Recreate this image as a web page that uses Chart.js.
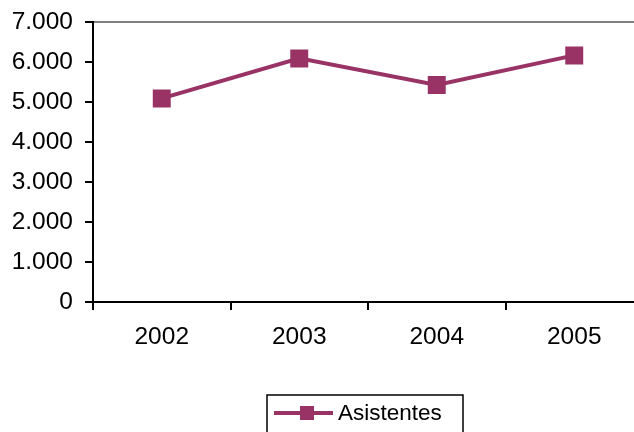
<!DOCTYPE html>
<html>
<head>
<meta charset="utf-8">
<script src="https://cdn.jsdelivr.net/npm/chart.js@4/dist/chart.umd.min.js"></script>
<style>
  html, body { margin: 0; padding: 0; background: #fff; overflow: hidden; }
  #wrap { width: 634px; height: 432px; overflow: hidden; }
</style>
</head>
<body>
<div id="wrap"><canvas id="chart" width="660" height="432"></canvas></div>
<script>
// data
const years = ['2002', '2003', '2004', '2005'];
const asistentes = [5090, 6090, 5425, 6165];
const seriesName = 'Asistentes';
const yTicks = [0, 1000, 2000, 3000, 4000, 5000, 6000, 7000];

const plum = '#993366';
const family = '"Liberation Sans", Arial, sans-serif';
const xFont = { family: family, size: 24.5 };
// small lineHeight so the top label does not push the plot down
const yFont = { family: family, size: 24.5, lineHeight: 0.5 };

// dots as thousands separator, e.g. 7.000
function fmt(v) {
    return String(v).replace(/\B(?=(\d{3})+(?!\d))/g, '.');
}

// boxed legend with line + square marker, like the Excel one
const boxLegend = {
    id: 'boxLegend',
    afterDraw(chart) {
        const ctx = chart.ctx;
        const ds = chart.data.datasets[0];
        const y = 413;
        ctx.save();
        ctx.strokeStyle = '#000';
        ctx.lineWidth = 1.5;
        ctx.strokeRect(267, 395, 196, 60);
        ctx.strokeStyle = ds.borderColor;
        ctx.lineWidth = 4;
        ctx.beginPath();
        ctx.moveTo(274, y);
        ctx.lineTo(333, y);
        ctx.stroke();
        ctx.fillStyle = ds.backgroundColor;
        ctx.fillRect(300, y - 7, 14, 14);
        ctx.fillStyle = '#000';
        ctx.font = '22.5px ' + family;
        ctx.textBaseline = 'middle';
        ctx.fillText(ds.label, 338, y + 1);
        ctx.restore();
    }
};

new Chart(document.getElementById('chart'), {
    type: 'line',
    data: {
        labels: years,
        datasets: [{
            label: seriesName,
            data: asistentes,
            borderColor: plum,
            backgroundColor: plum,
            borderWidth: 4,
            pointStyle: 'rect',
            pointRadius: 12.7,
            pointHoverRadius: 12.7,
            pointBorderWidth: 0,
            tension: 0
        }]
    },
    options: {
        responsive: false,
        animation: false,
        layout: { padding: { top: 22, right: 17, left: 0, bottom: 0 } },
        plugins: {
            legend: { display: false },
            tooltip: { enabled: false }
        },
        scales: {
            x: {
                offset: true,
                grid: {
                    offset: true,
                    drawOnChartArea: false,
                    color: '#000',
                    lineWidth: 2,
                    tickLength: 8
                },
                border: { color: '#000', width: 2 },
                ticks: { color: '#000', font: xFont, padding: 13, maxRotation: 0 },
                afterFit(scale) { scale.height = 130; }
            },
            y: {
                min: 0,
                max: 7000,
                afterBuildTicks(scale) { scale.ticks = yTicks.map(v => ({ value: v })); },
                grid: {
                    color: ctx => ctx.tick && ctx.tick.value === 7000 ? '#808080' : 'rgba(0,0,0,0)',
                    tickColor: '#000',
                    lineWidth: 2,
                    tickLength: 8
                },
                border: { color: '#000', width: 2 },
                ticks: { color: '#000', font: yFont, padding: 12, callback: v => fmt(v) },
                afterFit(scale) { scale.width = 93; }
            }
        }
    },
    plugins: [boxLegend]
});
</script>
</body>
</html>
